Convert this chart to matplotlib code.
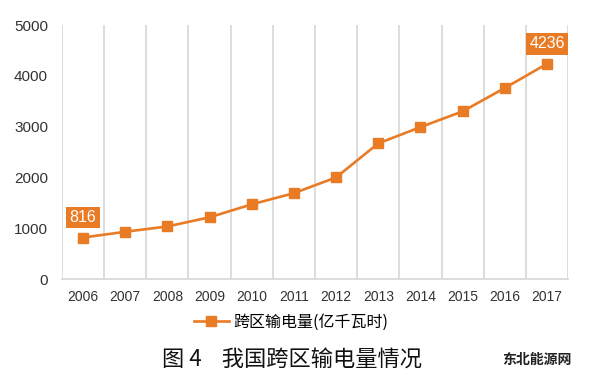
import matplotlib
matplotlib.use('Agg')
import matplotlib.pyplot as plt
from matplotlib.lines import Line2D

plt.rcParams['font.family'] = ['Liberation Sans', 'Noto Sans CJK SC', 'DejaVu Sans']

years = ['2006', '2007', '2008', '2009', '2010', '2011',
         '2012', '2013', '2014', '2015', '2016', '2017']
power = [816, 930, 1035, 1215, 1470, 1690, 2000, 2670, 2990, 3300, 3760, 4236]
series_name = '跨区输电量(亿千瓦时)'
caption = '图 4    我国跨区输电量情况'
label_years = ['2006', '2017']

orange = '#EA7B25'
grid_gray = '#DADADA'

fig = plt.figure(figsize=(6, 3.85), dpi=100)
ax = fig.add_axes([0.1033, 0.2753, 0.8434, 0.6597])

x = list(range(len(years)))
ax.plot(x, power, color=orange, lw=1.9, marker='s', ms=6.5, mec=orange, mfc=orange)

for i, (yr, v) in enumerate(zip(years, power)):
    if yr in label_years:
        ax.annotate(str(v), (i, v), xytext=(0, 9), textcoords='offset points',
                    ha='center', va='bottom', color='white', fontsize=11.5,
                    bbox=dict(boxstyle='square,pad=0.2', fc=orange, ec='none'))

ax.set_xlim(-0.5, len(years) - 0.5)
ax.set_ylim(0, 5000)
ax.set_yticks([0, 1000, 2000, 3000, 4000, 5000])
ax.set_xticks(x)
ax.set_xticklabels(years)
for b in range(len(years) + 1):
    ax.axvline(b - 0.5, color=grid_gray, lw=1.3, zorder=0)
for s in ['top', 'left', 'right']:
    ax.spines[s].set_visible(False)
ax.spines['bottom'].set_color(grid_gray)
ax.spines['bottom'].set_linewidth(1.3)
ax.tick_params(length=0, labelcolor='#333333')
ax.tick_params(axis='x', pad=8, labelsize=10)
ax.tick_params(axis='y', pad=10, labelsize=11)

handle = Line2D([], [], color=orange, lw=1.9, marker='s', ms=6.5)
fig.legend([handle], [series_name], loc='center', bbox_to_anchor=(0.485, 0.164),
           frameon=False, handlelength=2.2, handletextpad=0.3,
           prop={'family': ['Noto Sans CJK SC'], 'size': 11.5})

fig.text(0.487, 0.065, caption, ha='center', va='center', fontsize=16,
         family=['Noto Sans CJK SC'], color='#111111')
fig.text(0.895, 0.065, '东北能源网', ha='center', va='center', fontsize=10,
         family=['Noto Sans CJK SC'], color='#222222', weight='bold')

fig.savefig('out.png', dpi=100, facecolor='white')
